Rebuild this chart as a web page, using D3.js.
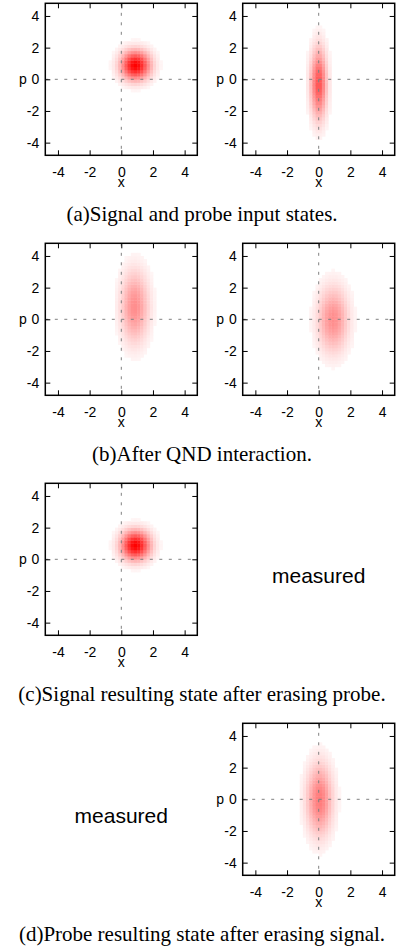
<!DOCTYPE html>
<html>
<head>
<meta charset="utf-8">
<script src="https://cdn.jsdelivr.net/npm/d3@7"></script>
<style>
	body { margin: 0; background: #fff; }
	.axis-label { font-family: "Liberation Sans", Arial, sans-serif; font-size: 14px; }
	.caption { font-family: "Liberation Serif", "Times New Roman", serif; font-size: 21px; }
	.measured { font-family: "Liberation Sans", Arial, sans-serif; font-size: 21px; }
</style>
</head>
<body>
<script>
// tick values, same on both axes
var xTicks = [-4, -2, 0, 2, 4];
var pTicks = [-4, -2, 0, 2, 4];
var axisDomain = [-4.8, 4.8];

// one entry per drawn phase-space panel (gaussian states)
var panelNames = ['signal in', 'probe in', 'signal after QND', 'probe after QND', 'signal after erasing', 'probe after erasing'];
var panelRow = [0, 0, 1, 1, 2, 3];
var panelCol = [0, 1, 0, 1, 0, 1];
var centerX = [0.9, 0.0, 0.85, 0.9, 0.9, 0.05];
var centerP = [0.9, -0.25, 0.8, 0.0, 0.9, 0.0];
var sigmaX = [0.45, 0.25, 0.43, 0.47, 0.45, 0.4];
var sigmaP = [0.45, 1.08, 1.1, 1.0, 0.45, 1.1];
var peak = [1.0, 0.46, 0.2, 0.2, 1.0, 0.27];

// placeholders where a state has been measured
var measuredRow = [2, 3];
var measuredCol = [1, 0];
var measuredText = 'measured';

var captions = [
	'(a)Signal and probe input states.',
	'(b)After QND interaction.',
	'(c)Signal resulting state after erasing probe.',
	'(d)Probe resulting state after erasing signal.'
];

// layout
var colLeft = [45.3, 242.7],
	rowTop = [3.3, 243.3, 483.3, 723.3],
	size = 152,
	tickLen = 5,
	step = 0.2;

var svg = d3.select('body')
	.append('svg')
	.attr('width', 406)
	.attr('height', 950);

var x = d3.scaleLinear().domain(axisDomain).range([0, size]);
var y = d3.scaleLinear().domain(axisDomain).range([size, 0]);

// white -> red, gamma'd so the faint tails show like the gnuplot palette
var color = d3.scalePow()
	.exponent(0.5)
	.domain([0, 1])
	.range(['#ffffff', '#ff0000']);

var grid = d3.range(axisDomain[0] + step / 2, axisDomain[1], step);
var cellW = x(step) - x(0);

var defs = svg.append('defs');
defs.append('clipPath')
	.attr('id', 'frame-clip')
	.append('rect')
	.attr('width', size)
	.attr('height', size);

panelNames.forEach(function(name, i) {
	var g = svg.append('g')
		.attr('class', 'panel')
		.attr('transform', `translate(${colLeft[panelCol[i]]}, ${rowTop[panelRow[i]]})`);

	var cells = d3.cross(grid, grid).map(function(c) {
		var dx = (c[0] - centerX[i]) / sigmaX[i],
			dp = (c[1] - centerP[i]) / sigmaP[i];
		return { x: c[0], p: c[1], v: peak[i] * Math.exp(-(dx * dx + dp * dp) / 2) };
	}).filter(function(d) { return d.v > 0.0016; });

	g.append('g')
		.attr('clip-path', 'url(#frame-clip)')
		.selectAll('rect')
		.data(cells)
		.enter().append('rect')
		.attr('x', function(d) { return x(d.x - step / 2); })
		.attr('y', function(d) { return y(d.p + step / 2); })
		.attr('width', cellW + 0.4)
		.attr('height', cellW + 0.4)
		.style('fill', function(d) { return color(d.v); });

	// dashed zero lines
	g.append('line')
		.attr('x1', x(0)).attr('x2', x(0))
		.attr('y1', 0).attr('y2', size)
		.style('stroke', '#808080')
		.style('stroke-dasharray', '3,6.5');
	g.append('line')
		.attr('x1', 0).attr('x2', size)
		.attr('y1', y(0)).attr('y2', y(0))
		.style('stroke', '#808080')
		.style('stroke-dasharray', '3,6.5');

	// mirrored inner ticks, hyphen minus like the original
	g.append('g')
		.attr('transform', `translate(0, ${size})`)
		.call(d3.axisBottom(x).tickValues(xTicks).tickSize(-tickLen).tickPadding(12).tickFormat(String));
	g.append('g')
		.call(d3.axisTop(x).tickValues(xTicks).tickSize(-tickLen).tickFormat(''));
	g.append('g')
		.call(d3.axisLeft(y).tickValues(pTicks).tickSize(-tickLen).tickPadding(6).tickFormat(String));
	g.append('g')
		.attr('transform', `translate(${size}, 0)`)
		.call(d3.axisRight(y).tickValues(pTicks).tickSize(-tickLen).tickFormat(''));

	g.selectAll('.domain').remove();
	g.selectAll('.tick line').style('stroke', '#000');
	g.selectAll('.tick text')
		.style('font-family', '"Liberation Sans", Arial, sans-serif')
		.style('font-size', '14px')
		.style('fill', '#000');

	g.append('rect')
		.attr('width', size)
		.attr('height', size)
		.style('fill', 'none')
		.style('stroke', '#000')
		.style('stroke-width', 1.5);

	g.append('text')
		.classed('axis-label', true)
		.attr('x', x(0))
		.attr('y', size + 32)
		.style('text-anchor', 'middle')
		.text('x');

	g.append('text')
		.classed('axis-label', true)
		.attr('x', -18.6)
		.attr('y', y(0))
		.attr('dy', '0.36em')
		.style('text-anchor', 'end')
		.text('p');
});

measuredRow.forEach(function(r, i) {
	svg.append('text')
		.classed('measured', true)
		.attr('x', colLeft[measuredCol[i]] + size / 2)
		.attr('y', rowTop[r] + 99.7)
		.style('text-anchor', 'middle')
		.text(measuredText);
});

captions.forEach(function(c, i) {
	svg.append('text')
		.classed('caption', true)
		.attr('x', 202)
		.attr('y', rowTop[i] + 217.7)
		.style('text-anchor', 'middle')
		.text(c);
});
</script>
</body>
</html>
